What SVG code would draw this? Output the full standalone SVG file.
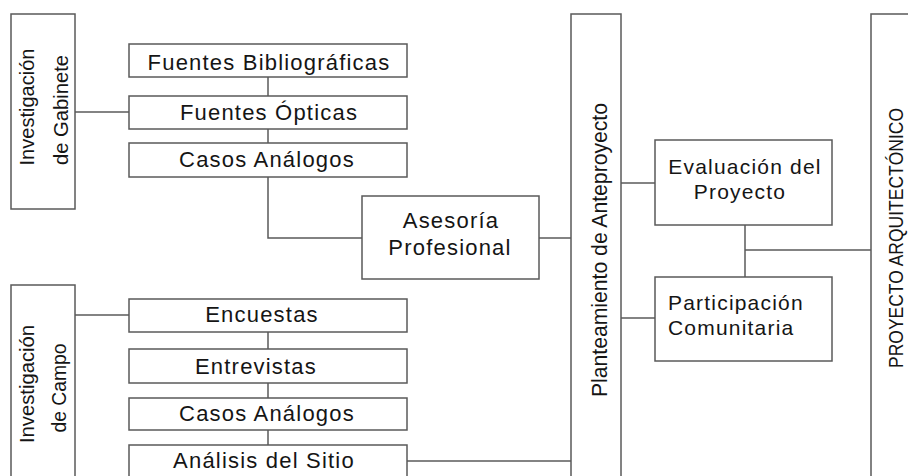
<svg xmlns="http://www.w3.org/2000/svg" width="908" height="476" viewBox="0 0 908 476">
<style>
.box{fill:#fff;stroke:#5a5a5a;stroke-width:1.5}
.ln{fill:none;stroke:#5a5a5a;stroke-width:1.5}
.t{font-family:"Liberation Sans",Arial,sans-serif;font-size:22px;fill:#151515;text-anchor:middle;letter-spacing:1.2px}
.s{font-size:21px}
.l{text-anchor:start}
.v{font-family:"Liberation Sans",Arial,sans-serif;fill:#151515;text-anchor:middle}
</style>
<rect width="908" height="476" fill="#fff"/>
<g id="connectors">
<path class="ln" d="M75 112H129"/>
<path class="ln" d="M268 77V96"/>
<path class="ln" d="M268 129V143"/>
<path class="ln" d="M268 177V238H362"/>
<path class="ln" d="M539 238H571"/>
<path class="ln" d="M621 183H655"/>
<path class="ln" d="M621 318H655"/>
<path class="ln" d="M745 225V277"/>
<path class="ln" d="M745 250H871"/>
<path class="ln" d="M75 315H129"/>
<path class="ln" d="M268 332V349"/>
<path class="ln" d="M268 383V398"/>
<path class="ln" d="M268 430V445"/>
<path class="ln" d="M407 461H571"/>
</g>
<g id="gabinete">
<rect class="box" x="11" y="14" width="64" height="195"/>
<text class="v" font-size="20" transform="translate(34,107) rotate(-90)" textLength="117" lengthAdjust="spacingAndGlyphs">Investigación</text>
<text class="v" font-size="20" transform="translate(68,110) rotate(-90)" textLength="110" lengthAdjust="spacingAndGlyphs">de Gabinete</text>
</g>
<g id="fuentes-bibliograficas">
<rect class="box" x="129" y="44" width="278" height="33"/>
<text class="t" x="269" y="70">Fuentes Bibliográficas</text>
</g>
<g id="fuentes-opticas">
<rect class="box" x="129" y="96" width="278" height="33"/>
<text class="t" x="269" y="120">Fuentes Ópticas</text>
</g>
<g id="casos-analogos-1">
<rect class="box" x="129" y="143" width="278" height="34"/>
<text class="t" x="267" y="167">Casos Análogos</text>
</g>
<g id="asesoria">
<rect class="box" x="362" y="196" width="177" height="83"/>
<text class="t" x="451" y="228">Asesoría</text>
<text class="t" x="450" y="255">Profesional</text>
</g>
<g id="planteamiento">
<rect class="box" x="571" y="14" width="50" height="475"/>
<text class="v" font-size="22" transform="translate(607,250) rotate(-90)" textLength="294" lengthAdjust="spacingAndGlyphs">Planteamiento de Anteproyecto</text>
</g>
<g id="evaluacion">
<rect class="box" x="655" y="140" width="177" height="85"/>
<text class="t s" x="745" y="174">Evaluación del</text>
<text class="t s" x="740" y="199">Proyecto</text>
</g>
<g id="participacion">
<rect class="box" x="655" y="277" width="177" height="84"/>
<text class="t s l" x="668" y="310">Participación</text>
<text class="t s l" x="668" y="335">Comunitaria</text>
</g>
<g id="proyecto">
<rect class="box" x="871" y="14" width="60" height="475"/>
<text class="v" font-size="21" transform="translate(903,238) rotate(-90)" textLength="260" lengthAdjust="spacingAndGlyphs">PROYECTO ARQUITECTÓNICO</text>
</g>
<g id="campo">
<rect class="box" x="11" y="285" width="64" height="200"/>
<text class="v" font-size="20" transform="translate(34,384) rotate(-90)" textLength="118" lengthAdjust="spacingAndGlyphs">Investigación</text>
<text class="v" font-size="20" transform="translate(66,388) rotate(-90)" textLength="89" lengthAdjust="spacingAndGlyphs">de Campo</text>
</g>
<g id="encuestas">
<rect class="box" x="129" y="299" width="278" height="33"/>
<text class="t" x="262" y="322">Encuestas</text>
</g>
<g id="entrevistas">
<rect class="box" x="129" y="349" width="278" height="34"/>
<text class="t" x="256" y="374">Entrevistas</text>
</g>
<g id="casos-analogos-2">
<rect class="box" x="129" y="398" width="278" height="32"/>
<text class="t" x="267" y="421">Casos Análogos</text>
</g>
<g id="analisis-sitio">
<rect class="box" x="129" y="445" width="278" height="40"/>
<text class="t" x="264" y="468">Análisis del Sitio</text>
</g>
</svg>
